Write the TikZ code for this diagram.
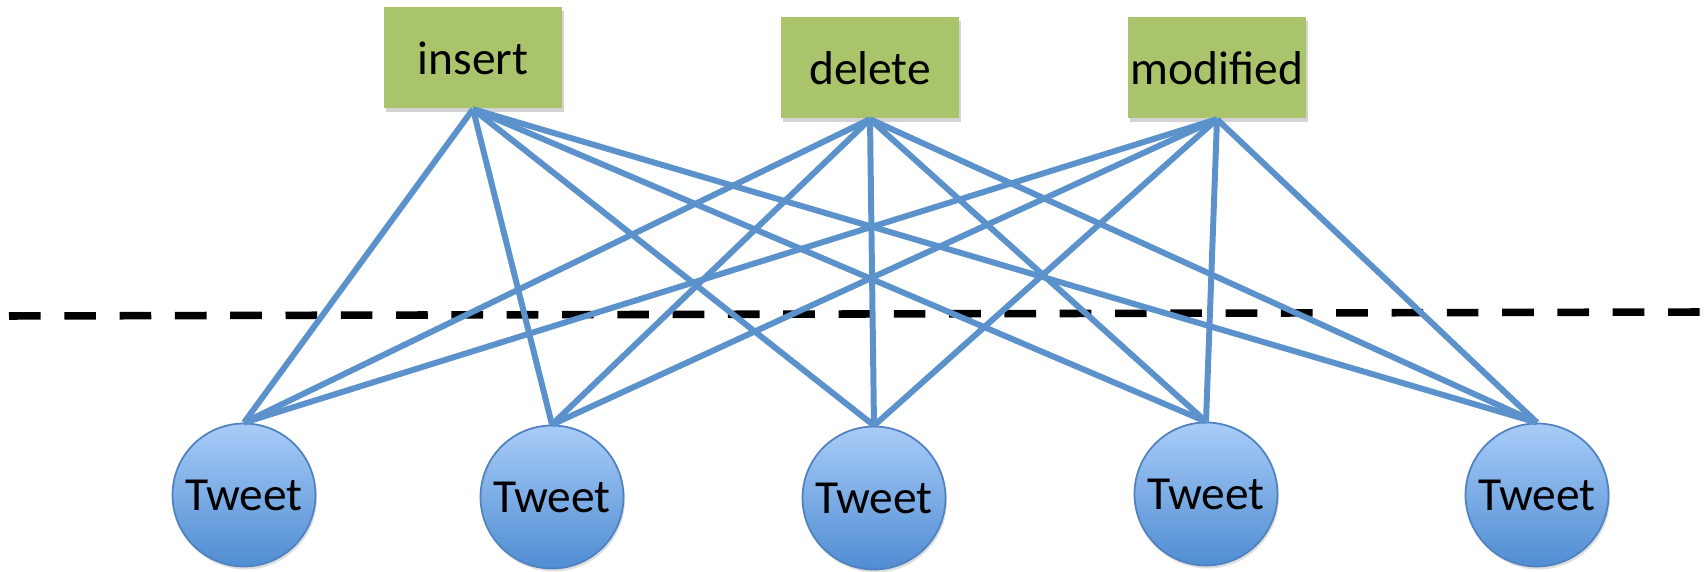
\documentclass[tikz,border=0pt]{standalone}
\usepackage{fontspec}
\setmainfont{Carlito}
\usetikzlibrary{shadows}
\definecolor{boxgreen}{RGB}{170,196,107}
\definecolor{edgeblue}{RGB}{92,146,204}
\definecolor{rimblue}{RGB}{80,130,192}
\definecolor{toplight}{RGB}{168,204,248}
\definecolor{botdark}{RGB}{80,141,210}
\begin{document}
\begin{tikzpicture}[line join=round, line cap=round, thick]
  \tikzset{
    op/.style={fill=boxgreen, minimum width=3.56cm, minimum height=2.02cm, inner sep=0pt,
      font=\fontsize{27}{32}\selectfont,
      drop shadow={shadow xshift=0.03cm, shadow yshift=-0.07cm, opacity=0.35}},
    tweet/.style={circle, draw=rimblue, line width=1pt, top color=toplight,
      bottom color=botdark, minimum size=2.86cm, inner sep=0pt,
      font=\fontsize{27}{32}\selectfont,
      drop shadow={shadow xshift=0.03cm, shadow yshift=-0.06cm, opacity=0.25}},
    link/.style={draw=edgeblue, line width=3.4pt, line cap=butt}
  }
  \useasboundingbox (0,0) rectangle (34.12,11.44);
  \coordinate (cutL) at (0.18,5.12);
  \coordinate (cutR) at (34.12,5.2);
  \draw[line width=4.3pt, line cap=butt, dash pattern=on 0.633cm off 0.473cm] (cutL) -- (cutR);
  \node[op] (ins) at (9.46,10.28) {insert};
  \node[op] (del) at (17.4,10.08) {delete};
  \node[op] (mod) at (24.34,10.08) {modified};
  \node[tweet] (t1) at (4.88,1.54) {Tweet};
  \node[tweet] (t2) at (11.04,1.5) {Tweet};
  \node[tweet] (t3) at (17.48,1.48) {Tweet};
  \node[tweet] (t4) at (24.12,1.56) {Tweet};
  \node[tweet] (t5) at (30.74,1.54) {Tweet};
  \foreach \o in {ins,del,mod}
    \foreach \t in {1,...,5}
      \draw[link] (\o.south) -- (t\t.north);
\end{tikzpicture}
\end{document}
